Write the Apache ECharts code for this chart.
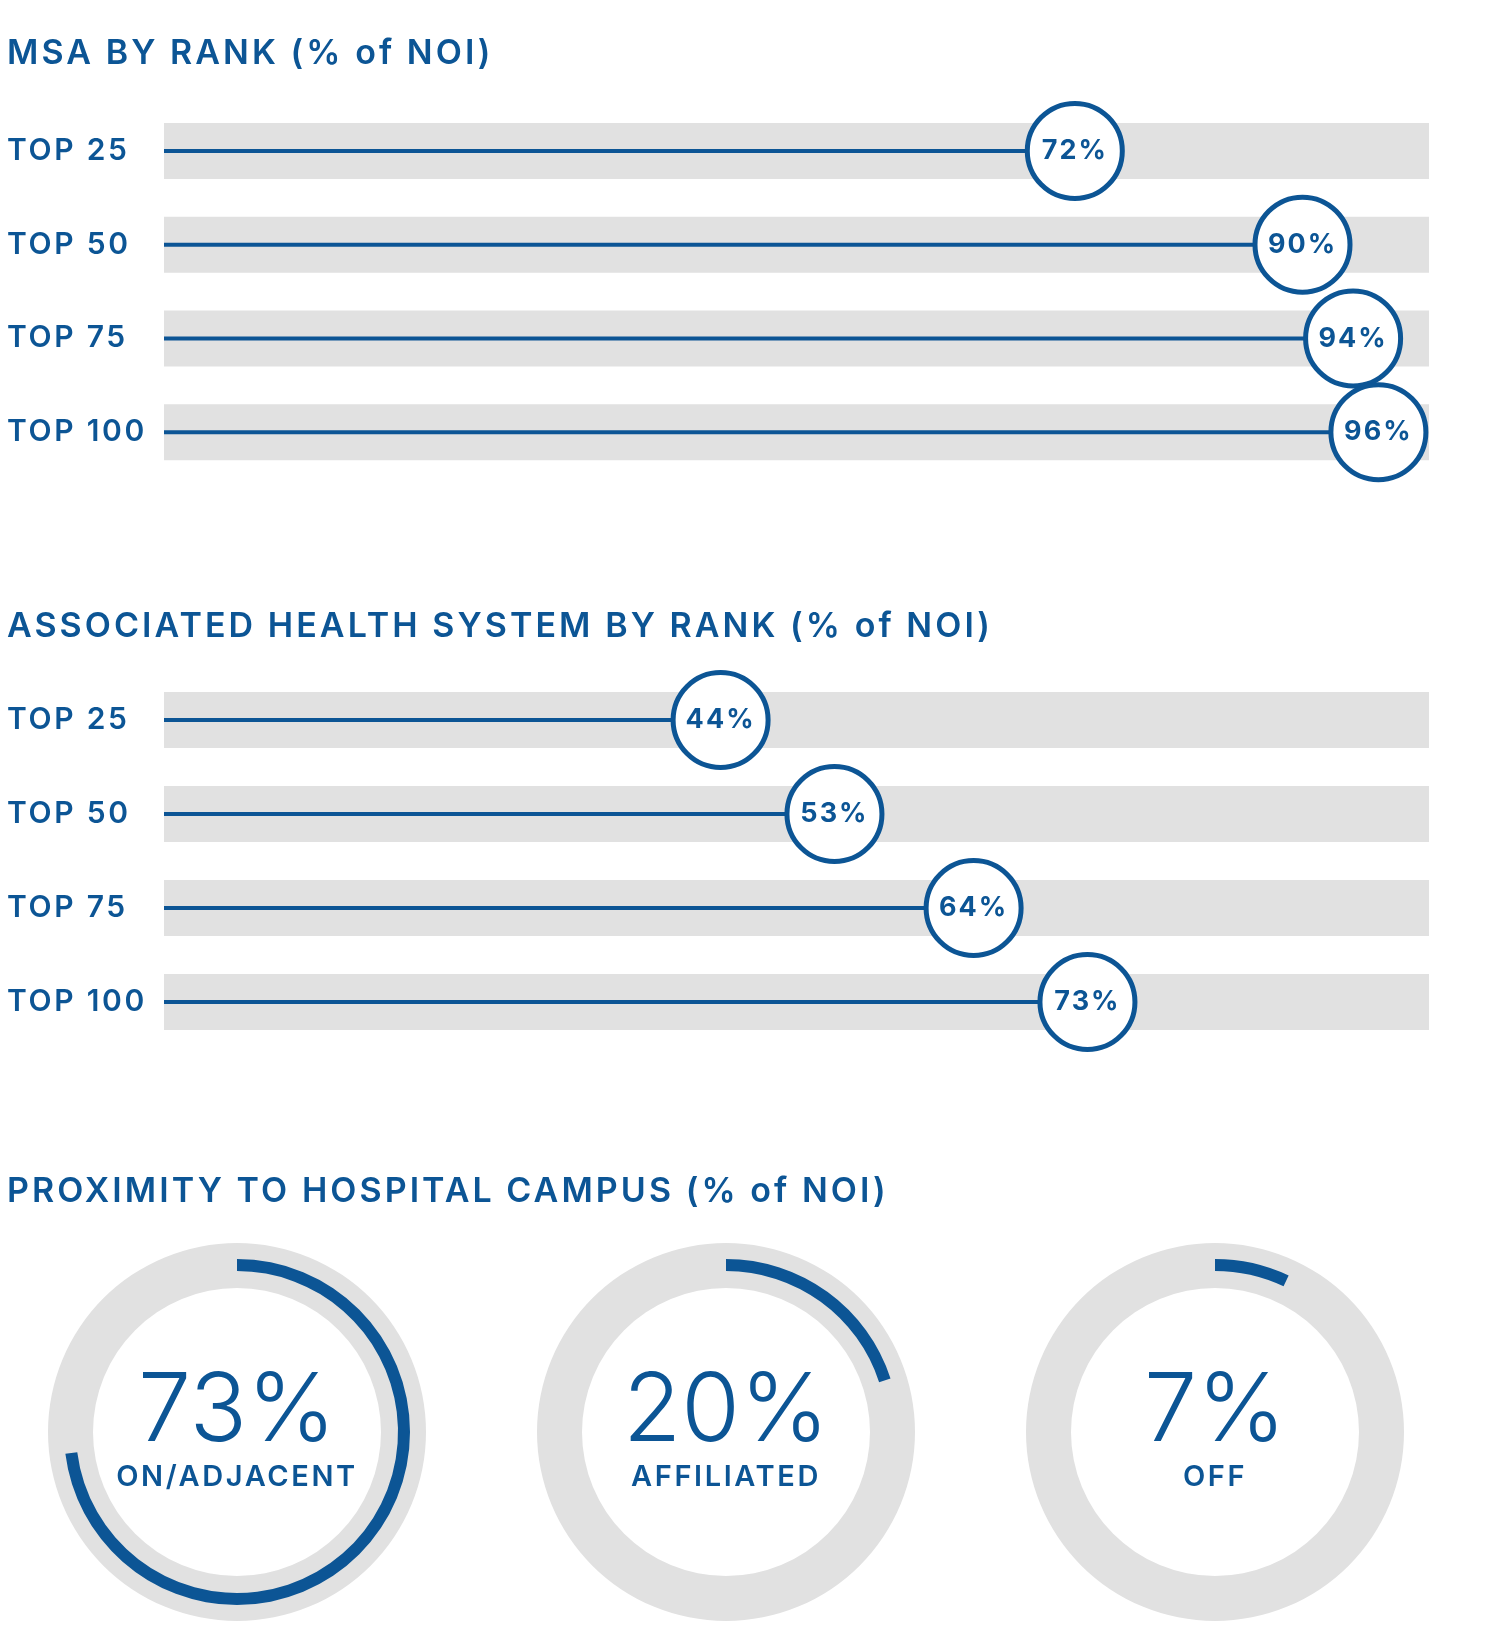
<!DOCTYPE html>
<html><head><meta charset="utf-8">
<script src="https://cdn.jsdelivr.net/npm/echarts@6/dist/echarts.min.js"></script>
<style>html,body{margin:0;padding:0;background:#fff}#c{width:1495px;height:1632px}</style>
</head><body><div id="c"></div>
<script>
// ---- data ----
const sectionTitles = ['MSA BY RANK (% of NOI)', 'ASSOCIATED HEALTH SYSTEM BY RANK (% of NOI)', 'PROXIMITY TO HOSPITAL CAMPUS (% of NOI)'];
const rankCategories = ['TOP 25', 'TOP 50', 'TOP 75', 'TOP 100'];
const msaValues = [72, 90, 94, 96];
const healthValues = [44, 53, 64, 73];
const trackValues = [100, 100, 100, 100];
const proximityNames = ['ON/ADJACENT', 'AFFILIATED', 'OFF'];
const proximityValues = [73, 20, 7];

// Emulate the wide tracking of the original typeface for the smaller text (canvas letterSpacing).
(function () {
  const proto = CanvasRenderingContext2D.prototype;
  const orig = proto.fillText;
  proto.fillText = function (t, x, y, m) {
    const mm = /(\d+(?:\.\d+)?)px/.exec(this.font || '');
    const fs = mm ? parseFloat(mm[1]) : 12;
    const em = fs >= 60 ? 0 : (fs <= 27 ? 0.075 : 0.09);
    try { this.letterSpacing = (fs * em).toFixed(2) + 'px'; } catch (e) {}
    return m === undefined ? orig.call(this, t, x, y) : orig.call(this, t, x, y, m);
  };
})();

// ---- style ----
const BLUE = '#0c5595', GRAY = '#e1e1e1', FONT = 'Inter, "Open Sans", sans-serif';
const grids = [
  {left: 164, width: 1265, top: 104, height: 375},
  {left: 164, width: 1265, top: 673, height: 376}
];
const pieCenters = [237, 726, 1215];
const pieY = 1432;

const chart = echarts.init(document.getElementById('c'), null, {renderer: 'canvas'});
const xAxis = [], yAxis = [], series = [];
[msaValues, healthValues].forEach((vals, g) => {
  xAxis.push({gridIndex: g, type: 'value', min: 0, max: 100, show: false});
  yAxis.push({gridIndex: g, type: 'category', data: rankCategories, inverse: true,
    axisLine: {show: false}, axisTick: {show: false}, splitLine: {show: false},
    axisLabel: {align: 'left', margin: 157, color: BLUE, fontSize: 30, fontWeight: 600, fontFamily: FONT, padding: [0, 0, 8, 0]}});
  yAxis.push({gridIndex: g, type: 'category', data: rankCategories, inverse: true, show: false});
  series.push({type: 'bar', xAxisIndex: g, yAxisIndex: 2 * g, data: trackValues, barWidth: 56,
    itemStyle: {color: GRAY}, silent: true, animation: false, z: 1});
  series.push({type: 'bar', xAxisIndex: g, yAxisIndex: 2 * g + 1, data: vals, barWidth: 4,
    itemStyle: {color: BLUE}, silent: true, animation: false, z: 2});
  series.push({type: 'scatter', xAxisIndex: g, yAxisIndex: 2 * g, clip: false,
    data: vals.map((v, i) => [v, rankCategories[i]]), symbol: 'circle', symbolSize: 95,
    itemStyle: {color: '#fff', borderColor: BLUE, borderWidth: 5, opacity: 1},
    label: {show: true, position: 'inside', formatter: p => p.value[0] + '%', color: BLUE,
      fontSize: 27, fontWeight: 700, fontFamily: FONT},
    silent: true, animation: false, z: 5});
});
proximityValues.forEach((v, i) => {
  series.push({type: 'pie', center: [pieCenters[i], pieY], radius: [144, 189], silent: true, animation: false,
    data: [{value: 100, name: 'track'}], itemStyle: {color: GRAY, borderWidth: 0},
    label: {show: false}, labelLine: {show: false}, z: 1});
  series.push({type: 'pie', center: [pieCenters[i], pieY], radius: [161, 173], startAngle: 90, clockwise: true,
    silent: true, animation: false, avoidLabelOverlap: false, itemStyle: {borderWidth: 0},
    labelLine: {show: false}, z: 2,
    data: [
      {value: v, name: proximityNames[i], itemStyle: {color: BLUE},
        label: {show: true, position: 'center', formatter: '{v|' + v + '%}\n{n|' + proximityNames[i] + '}',
          rich: {
            v: {fontSize: 95, fontWeight: 300, color: BLUE, fontFamily: FONT, lineHeight: 90, align: 'center'},
            n: {fontSize: 29, fontWeight: 600, color: BLUE, fontFamily: FONT, lineHeight: 40, align: 'center'}
          }}},
      {value: 100 - v, name: 'rest', itemStyle: {color: 'rgba(0,0,0,0)'}, label: {show: false}}
    ]});
});
const titleTops = [37, 610, 1175];
chart.setOption({
  backgroundColor: '#fff',
  animation: false,
  title: sectionTitles.map((t, i) => ({text: t, left: 7, top: titleTops[i], padding: 0,
    textStyle: {color: BLUE, fontSize: 34, fontWeight: 600, fontFamily: FONT, lineHeight: 34}})),
  grid: grids,
  xAxis: xAxis,
  yAxis: yAxis,
  series: series
});
</script></body></html>
